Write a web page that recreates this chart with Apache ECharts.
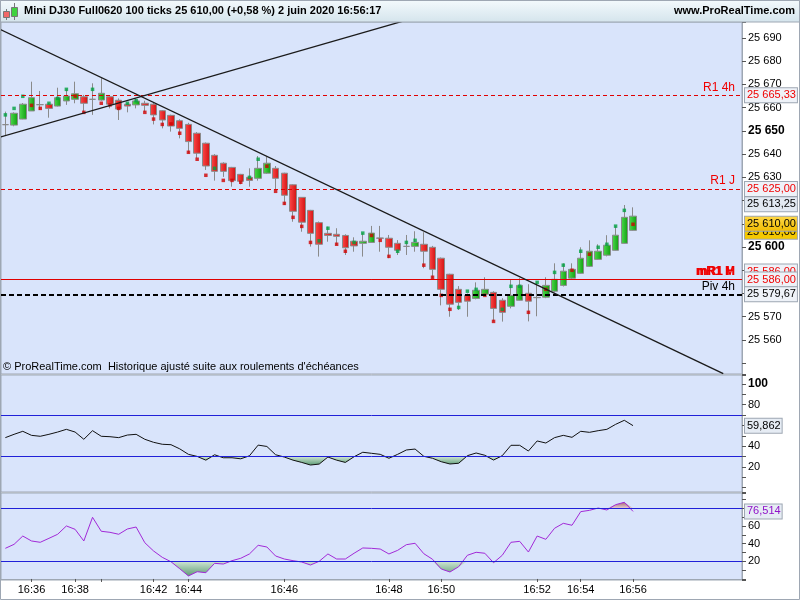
<!DOCTYPE html>
<html>
<head>
<meta charset="utf-8">
<title>Mini DJ30 Full0620 100 ticks</title>
<script src="https://cdn.jsdelivr.net/npm/echarts@6/dist/echarts.min.js"></script>
<style>
html, body { margin: 0; padding: 0; background: #fff; }
#chart { width: 800px; height: 600px; }
</style>
</head>
<body>
<div id="chart"></div>
<script>
// one bar = 100 ticks : [open, close, low, high]
var candles = [
	[25652.7, 25652.7, 25648.2, 25658.3], [25652.5, 25657.6, 25652.0, 25658.0], [25655.1, 25661.5, 25655.0, 25662.0],
	[25658.6, 25664.3, 25658.6, 25671.2], [25661.3, 25661.3, 25659.0, 25667.2], [25661.5, 25659.7, 25655.7, 25662.0],
	[25660.7, 25664.3, 25660.5, 25668.6], [25662.9, 25665.0, 25661.2, 25667.9], [25663.6, 25666.0, 25661.9, 25671.2],
	[25664.7, 25661.9, 25658.0, 25665.5], [25663.6, 25663.6, 25656.9, 25670.5], [25663.3, 25666.2, 25663.0, 25672.7],
	[25664.7, 25661.5, 25659.7, 25665.0], [25663.2, 25659.4, 25654.7, 25664.0], [25661.5, 25660.7, 25658.0, 25662.0],
	[25661.2, 25662.9, 25659.7, 25664.0], [25661.9, 25661.0, 25658.2, 25663.0], [25661.5, 25656.9, 25652.8, 25662.0],
	[25658.7, 25654.7, 25651.1, 25659.0], [25656.7, 25652.1, 25649.7, 25657.0], [25654.4, 25651.1, 25646.8, 25655.0],
	[25652.8, 25645.4, 25640.4, 25653.5], [25649.0, 25640.4, 25638.3, 25649.5], [25644.7, 25634.9, 25633.2, 25645.0],
	[25639.5, 25632.6, 25628.6, 25640.0], [25636.1, 25632.6, 25630.2, 25636.5], [25634.3, 25628.6, 25626.0, 25634.5],
	[25631.3, 25628.3, 25627.0, 25631.5], [25630.0, 25628.7, 25626.0, 25633.9], [25629.6, 25633.9, 25628.6, 25639.2],
	[25631.8, 25636.1, 25631.5, 25638.9], [25633.9, 25629.6, 25624.9, 25634.9], [25631.8, 25622.3, 25618.1, 25632.0],
	[25626.8, 25615.4, 25610.9, 25627.0], [25621.4, 25610.7, 25606.6, 25621.5], [25615.8, 25605.9, 25600.2, 25616.0],
	[25610.5, 25601.2, 25595.9, 25611.0], [25605.9, 25605.0, 25602.3, 25608.8], [25605.5, 25604.6, 25600.9, 25608.1],
	[25605.0, 25599.7, 25596.6, 25605.5], [25602.5, 25600.5, 25598.0, 25604.2], [25601.6, 25602.5, 25595.9, 25606.0],
	[25602.0, 25606.0, 25602.0, 25609.1], [25603.9, 25603.8, 25598.0, 25609.1], [25603.8, 25599.9, 25595.2, 25605.2],
	[25601.6, 25598.6, 25596.6, 25603.0], [25600.3, 25600.3, 25596.6, 25605.2], [25600.3, 25602.0, 25598.0, 25606.8],
	[25601.2, 25598.2, 25590.9, 25606.4], [25599.9, 25590.4, 25586.6, 25600.5], [25595.2, 25581.8, 25574.9, 25595.5],
	[25588.3, 25575.4, 25570.0, 25588.5], [25581.8, 25576.2, 25572.9, 25583.2], [25579.2, 25576.7, 25570.0, 25580.0],
	[25577.9, 25581.4, 25577.5, 25584.8], [25579.7, 25581.8, 25579.0, 25587.0], [25580.5, 25573.6, 25568.0, 25581.0],
	[25577.1, 25571.9, 25567.9, 25578.0], [25574.5, 25579.2, 25573.6, 25585.8], [25577.1, 25583.5, 25577.0, 25586.6],
	[25580.1, 25576.7, 25568.0, 25584.0], [25578.2, 25578.3, 25570.2, 25584.8], [25578.4, 25583.5, 25578.0, 25587.0],
	[25581.0, 25586.1, 25580.5, 25593.0], [25583.5, 25589.6, 25583.0, 25593.0], [25586.6, 25590.4, 25586.0, 25593.0],
	[25588.7, 25595.2, 25588.5, 25599.9], [25591.7, 25598.2, 25591.5, 25602.9], [25594.7, 25598.2, 25594.5, 25601.2],
	[25596.5, 25600.8, 25596.0, 25605.1], [25598.6, 25605.1, 25598.5, 25609.0], [25601.6, 25612.8, 25601.5, 25618.1],
	[25607.2, 25613.3, 25607.0, 25617.1]
]

// little square signal drawn with each bar (up = green, down = red)
var signalPrice = [
	25656.9, 25659.7, 25664.9, 25661.0, 25659.7, 25661.9, 25664.0, 25667.9, 25665.0, 25658.0,
	25667.9, 25661.9, 25661.2, 25659.7, 25661.9, 25663.0, 25658.0, 25655.1, 25652.8, 25653.0,
	25649.0, 25640.8, 25637.8, 25630.9, 25633.9, 25628.7, 25628.7, 25627.9, 25630.0, 25637.8,
	25634.8, 25624.0, 25618.8, 25612.8, 25608.9, 25602.0, 25602.7, 25608.1, 25601.2, 25598.2,
	25602.0, 25606.0, 25605.0, 25602.9, 25596.0, 25598.2, 25602.0, 25602.9, 25592.2, 25587.0,
	25579.2, 25573.2, 25574.0, 25581.0, 25581.8, 25579.2, 25568.0, 25573.2, 25583.1, 25583.1,
	25571.9, 25584.8, 25581.8, 25589.1, 25592.2, 25590.0, 25598.2, 25596.9, 25599.9, 25601.2,
	25609.0, 25615.8, 25609.8
]
var signalUp = [
	1, 1, 1, 0, 0, 1, 1, 1, 0, 0,
	1, 0, 0, 0, 1, 1, 0, 0, 0, 0,
	0, 0, 0, 0, 1, 0, 0, 0, 1, 1,
	0, 0, 0, 0, 0, 0, 1, 1, 0, 0,
	1, 1, 0, 0, 0, 1, 1, 1, 0, 0,
	0, 0, 1, 1, 1, 0, 0, 1, 1, 1,
	0, 1, 0, 1, 1, 0, 1, 0, 1, 1,
	1, 1, 0
]

var rsiValues = [
	48.3, 51.5, 54.4, 50.5, 49.6, 51.5, 53.7, 56.3, 53.7, 46.7,
	55.0, 49.6, 49.2, 48.3, 50.8, 51.5, 46.7, 43.8, 41.9, 41.5,
	37.5, 32.2, 30.2, 26.6, 31.8, 28.9, 28.9, 27.9, 30.8, 41.1,
	39.8, 31.8, 29.6, 26.6, 24.4, 21.9, 22.8, 29.6, 26.6, 24.4,
	29.9, 34.2, 33.2, 32.2, 28.4, 32.2, 36.4, 37.3, 30.3, 28.4,
	25.1, 22.9, 23.6, 30.9, 33.5, 31.3, 26.7, 30.9, 40.9, 40.9,
	35.4, 45.1, 43.1, 48.3, 50.5, 48.6, 54.4, 53.4, 55.0, 56.3,
	61.1, 65.0, 59.862
]
var stochValues = [
	34.7, 39.2, 48.6, 43.0, 41.5, 46.0, 50.6, 60.0, 56.2, 43.0,
	69.8, 54.0, 52.8, 50.6, 56.6, 58.8, 41.0, 31.7, 24.5, 19.5,
	11.6, 3.4, 8.2, 7.1, 17.7, 16.9, 20.7, 23.4, 28.3, 38.1,
	36.2, 26.0, 22.6, 20.7, 19.2, 15.8, 20.0, 28.3, 22.6, 22.6,
	29.1, 35.1, 34.7, 33.9, 28.3, 32.4, 38.8, 40.4, 28.6, 22.3,
	11.3, 7.9, 13.9, 26.8, 30.2, 29.1, 18.4, 26.8, 41.5, 42.6,
	30.5, 48.6, 44.9, 57.4, 63.0, 60.8, 76.2, 77.7, 80.3, 78.1,
	84.1, 86.8, 76.514
]

// time scale (tick bars, so times fall on bar numbers)
var slotCount = 85
var tickIndex = [3, 8, 11, 17, 21, 32, 44, 50, 61, 66, 72]
var tickText = ['16:36', '16:38', '', '16:42', '16:44', '16:46', '16:48', '16:50', '16:52', '16:54', '16:56']

// drawn trend lines [bar, price]
var trendDown = [[-0.62, 25693.75], [82.35, 25545.5]]
var trendUp = [[-0.62, 25647.3], [47.6, 25699.4]]

// pivot levels
var levelNames = ['R1 4h', 'R1 J', 'mR1 H', 'mR1 M', 'Piv 4h']
var levelValues = [25665.33, 25625.00, 25586.00, 25586.00, 25579.67]
var lastPrice = 25610.00
var prevPrice = 25613.25
var rsiLevels = [70, 30]
var stochLevels = [80, 20]

var FONT = '"Liberation Sans", Arial, sans-serif'
var GRAYLINE = '#9ea7b3'
var NOLINE = 'rgba(0,0,0,0)'

function frNum(v, d) { // 25610.5 -> "25 610,50"
	var parts = v.toFixed(d).split('.')
	var s = parts[0].replace(/\B(?=(\d{3})+(?!\d))/g, ' ')
	return parts.length > 1 ? s + ',' + parts[1] : s
}

function hgrad(a, b) {
	return { type: 'linear', x: 0, y: 0, x2: 1, y2: 0, colorStops: [{ offset: 0, color: a }, { offset: 1, color: b }] }
}
function vgrad(a, b) {
	return { type: 'linear', x: 0, y: 0, x2: 0, y2: 1, colorStops: [{ offset: 0, color: a }, { offset: 1, color: b }] }
}

var cats = []
for (var i = 0; i < slotCount; i++) cats.push('')
tickIndex.forEach(function(k, j) { cats[k] = tickText[j] })

function isTick(index) { return tickIndex.indexOf(index) >= 0 }

function boxMark(v, text, color, bg, dy) {
	return {
		yAxis: v,
		lineStyle: { color: NOLINE, width: 1, type: 'solid' },
		label: {
			show: true, position: 'end', formatter: text, color: color, backgroundColor: bg,
			borderColor: GRAYLINE, borderWidth: 1, padding: [2, 1, 1, 2], fontSize: 11,
			fontFamily: FONT, distance: 3, offset: [0, dy || 0]
		}
	}
}

function levelStyle(name) {
	if (name.indexOf('Piv') === 0) return { color: '#000', width: 2, type: [5, 3] }
	if (name.indexOf('mR1') === 0) return { color: '#e00000', width: 1, type: 'solid' }
	return { color: '#e00000', width: 1, type: [4, 3] }
}

var levelMarks = []
levelNames.forEach(function(name, k) {
	var st = levelStyle(name)
	levelMarks.push({
		yAxis: levelValues[k],
		lineStyle: st,
		label: {
			show: true, position: 'insideEndTop', formatter: name,
			color: st.color === '#000' ? '#000' : '#f00000',
			fontWeight: name.indexOf('mR1') === 0 ? 'bold' : 'normal',
			fontSize: 12, fontFamily: FONT, distance: [7, 2]
		}
	})
})
// boxes on the price scale
var priceBoxes = [
	boxMark(levelValues[0], frNum(levelValues[0], 2), '#f00000', '#eef2f8'),
	boxMark(levelValues[1], frNum(levelValues[1], 2), '#f00000', '#eef2f8'),
	boxMark(prevPrice, frNum(prevPrice, 2), '#000', '#e2e9f2', -12),
	boxMark(lastPrice, frNum(lastPrice, 2), '#000', '#f5c800', 8),
	boxMark(lastPrice, frNum(lastPrice, 2), '#000', vgrad('#ffd84a', '#f0bc00')),
	boxMark(levelValues[2], frNum(levelValues[2], 2), '#f00000', '#eef2f8', -8),
	boxMark(levelValues[3], frNum(levelValues[3], 2), '#f00000', '#eef2f8'),
	boxMark(levelValues[4], frNum(levelValues[4], 2), '#000', '#eef2f8')
]

function levelLines(list) {
	return list.map(function(v) {
		return { yAxis: v, lineStyle: { color: '#2020d8', width: 1, type: 'solid' }, label: { show: false } }
	})
}

var axisLabelBase = { color: '#000', fontSize: 11, fontFamily: FONT, margin: 6 }
var yAxisLine = { show: true, onZero: false, lineStyle: { color: GRAYLINE } }

var option = {
	animation: false,
	backgroundColor: '#fff',
	grid: [
		{ left: 1, right: 58, top: 22, height: 352, show: true, backgroundColor: '#d9e4fb', borderColor: GRAYLINE, borderWidth: 1, containLabel: false, outerBoundsMode: 'none' },
		{ left: 1, right: 58, top: 375, height: 117, show: true, backgroundColor: '#d9e4fb', borderColor: GRAYLINE, borderWidth: 1, containLabel: false, outerBoundsMode: 'none' },
		{ left: 1, right: 58, top: 493, height: 87, show: true, backgroundColor: '#d9e4fb', borderColor: GRAYLINE, borderWidth: 1, containLabel: false, outerBoundsMode: 'none' }
	],
	xAxis: [
		{ type: 'category', gridIndex: 0, data: cats, show: false, boundaryGap: true },
		{ type: 'category', gridIndex: 1, data: cats, show: false, boundaryGap: true },
		{
			type: 'category', gridIndex: 2, data: cats, boundaryGap: true,
			axisLine: { show: true, lineStyle: { color: GRAYLINE } },
			axisTick: { show: true, interval: isTick, alignWithLabel: true, length: 3, lineStyle: { color: '#555' } },
			axisLabel: Object.assign({}, axisLabelBase, { interval: isTick, margin: 4 }),
			splitLine: { show: false }
		},
		{ type: 'value', gridIndex: 0, min: -0.5, max: slotCount - 0.5, show: false, axisLine: { onZero: false } }
	],
	yAxis: [
		{
			type: 'value', gridIndex: 0, position: 'right', min: 25545.35, max: 25696.89,
			minInterval: 10, maxInterval: 10, scale: true,
			axisLine: yAxisLine,
			axisTick: { show: true, length: 4, lineStyle: { color: '#555' } },
			splitLine: { show: false },
			axisLabel: Object.assign({}, axisLabelBase, {
				formatter: function(v) {
					var r = Math.round(v)
					if (Math.abs(v - r) > 1e-6 || r % 10 !== 0) return ''
					if ([25620, 25610, 25590, 25580, 25550].indexOf(r) >= 0) return ''
					return r % 50 === 0 ? '{b|' + frNum(r, 0) + '}' : frNum(r, 0)
				},
				rich: { b: { fontWeight: 'bold', fontSize: 12, fontFamily: FONT, color: '#000' } }
			})
		},
		{
			type: 'value', gridIndex: 1, position: 'right', min: -4.1, max: 108.67,
			minInterval: 10, maxInterval: 10,
			axisLine: yAxisLine,
			axisTick: { show: true, length: 4, lineStyle: { color: '#555' } },
			splitLine: { show: false },
			axisLabel: Object.assign({}, axisLabelBase, {
				formatter: function(v) {
					var r = Math.round(v)
					if (Math.abs(v - r) > 1e-6 || r % 20 !== 0 || r <= 0 || r === 60) return ''
					return r === 100 ? '{b|100}' : String(r)
				},
				rich: { b: { fontWeight: 'bold', fontSize: 12, fontFamily: FONT, color: '#000' } }
			})
		},
		{
			type: 'value', gridIndex: 2, position: 'right', min: -1.17, max: 97.32,
			minInterval: 10, maxInterval: 10,
			axisLine: yAxisLine,
			axisTick: { show: true, length: 4, lineStyle: { color: '#555' } },
			splitLine: { show: false },
			axisLabel: Object.assign({}, axisLabelBase, {
				formatter: function(v) {
					var r = Math.round(v)
					if (Math.abs(v - r) > 1e-6 || r % 20 !== 0 || r <= 0 || r >= 80) return ''
					return String(r)
				}
			})
		}
	],
	series: [
		{
			type: 'candlestick', xAxisIndex: 0, yAxisIndex: 0, data: candles, barWidth: 7,
			itemStyle: {
				color: hgrad('#4fdc4f', '#0e9c0e'), color0: hgrad('#ff4a4a', '#d01010'),
				borderColor: '#8a8a8a', borderColor0: '#8a8a8a', borderWidth: 1
			},
			markLine: {
				silent: true, symbol: ['none', 'none'], animation: false, z: 5,
				data: levelMarks.concat(priceBoxes)
			}
		},
		{
			type: 'scatter', xAxisIndex: 0, yAxisIndex: 0, symbol: 'rect', symbolSize: 3.5, z: 4,
			data: signalPrice.map(function(p, i) {
				return { value: [i, p], itemStyle: { color: signalUp[i] ? '#00a040' : '#d00000' } }
			})
		},
		{
			type: 'line', xAxisIndex: 3, yAxisIndex: 0, data: trendDown, symbol: 'none', clip: true, z: 6,
			lineStyle: { color: '#1a1a1a', width: 1.3 }
		},
		{
			type: 'line', xAxisIndex: 3, yAxisIndex: 0, data: trendUp, symbol: 'none', clip: true, z: 6,
			lineStyle: { color: '#1a1a1a', width: 1.3 }
		},
		// RSI panel
		{
			type: 'line', xAxisIndex: 1, yAxisIndex: 1, z: 1, symbol: 'none', silent: true,
			data: rsiValues.map(function(v) { return Math.min(v, rsiLevels[1]) }),
			lineStyle: { opacity: 0 },
			areaStyle: { origin: rsiLevels[1], opacity: 1, color: vgrad('#cfe5d4', '#5e9c76') }
		},
		{
			type: 'line', xAxisIndex: 1, yAxisIndex: 1, z: 3, data: rsiValues, symbol: 'none',
			lineStyle: { color: '#111', width: 1 },
			markLine: {
				silent: true, symbol: ['none', 'none'], animation: false,
				data: levelLines(rsiLevels).concat([
					boxMark(rsiValues[rsiValues.length - 1], frNum(rsiValues[rsiValues.length - 1], 3), '#000', '#e6ecf4')
				])
			}
		},
		// stochastic panel
		{
			type: 'line', xAxisIndex: 2, yAxisIndex: 2, z: 1, symbol: 'none', silent: true,
			data: stochValues.map(function(v) { return Math.min(v, stochLevels[1]) }),
			lineStyle: { opacity: 0 },
			areaStyle: { origin: stochLevels[1], opacity: 1, color: vgrad('#cfe5d4', '#5e9c76') }
		},
		{
			type: 'line', xAxisIndex: 2, yAxisIndex: 2, z: 1, symbol: 'none', silent: true,
			data: stochValues.map(function(v) { return Math.max(v, stochLevels[0]) }),
			lineStyle: { opacity: 0 },
			areaStyle: { origin: stochLevels[0], opacity: 1, color: vgrad('#a86a78', '#e6d0d4') }
		},
		{
			type: 'line', xAxisIndex: 2, yAxisIndex: 2, z: 3, data: stochValues, symbol: 'none',
			lineStyle: { color: '#a22ad8', width: 1 },
			markLine: {
				silent: true, symbol: ['none', 'none'], animation: false,
				data: levelLines(stochLevels).concat([
					boxMark(stochValues[stochValues.length - 1], frNum(stochValues[stochValues.length - 1], 3), '#9010c8', '#e6ecf4')
				])
			}
		}
	],
	graphic: [
		{
			type: 'rect', z: 50, shape: { x: 0, y: 0, width: 800, height: 22 },
			style: { fill: vgrad('#f4fafd', '#d4e4ec'), stroke: GRAYLINE, lineWidth: 1 }
		},
		{ type: 'line', z: 51, shape: { x1: 6.5, y1: 9, x2: 6.5, y2: 20 }, style: { stroke: '#777', lineWidth: 1 } },
		{ type: 'rect', z: 52, shape: { x: 3.5, y: 11.5, width: 6, height: 6 }, style: { fill: '#f26868', stroke: '#777', lineWidth: 1 } },
		{ type: 'line', z: 51, shape: { x1: 14.5, y1: 3, x2: 14.5, y2: 20 }, style: { stroke: '#777', lineWidth: 1 } },
		{ type: 'rect', z: 52, shape: { x: 11.5, y: 7.5, width: 6, height: 9 }, style: { fill: '#3ed23e', stroke: '#777', lineWidth: 1 } },
		{
			type: 'text', z: 53, left: 24, top: 5,
			style: { text: 'Mini DJ30 Full0620 100 ticks 25 610,00 (+0,58 %) 2 juin 2020 16:56:17', font: 'bold 11px ' + FONT, fill: '#000' }
		},
		{
			type: 'text', z: 53, right: 5, top: 5,
			style: { text: 'www.ProRealTime.com', font: 'bold 11px ' + FONT, fill: '#000' }
		},
		{
			type: 'text', z: 53, left: 3, top: 361,
			style: { text: '© ProRealTime.com  Historique ajusté suite aux roulements d\'échéances', font: '11px ' + FONT, fill: '#000' }
		},
		{
			type: 'rect', z: 60, shape: { x: 0.5, y: 0.5, width: 799, height: 599 },
			style: { fill: 'none', stroke: GRAYLINE, lineWidth: 1 }
		}
	]
}

var chart = echarts.init(document.getElementById('chart'))
chart.setOption(option)
</script>
</body>
</html>
